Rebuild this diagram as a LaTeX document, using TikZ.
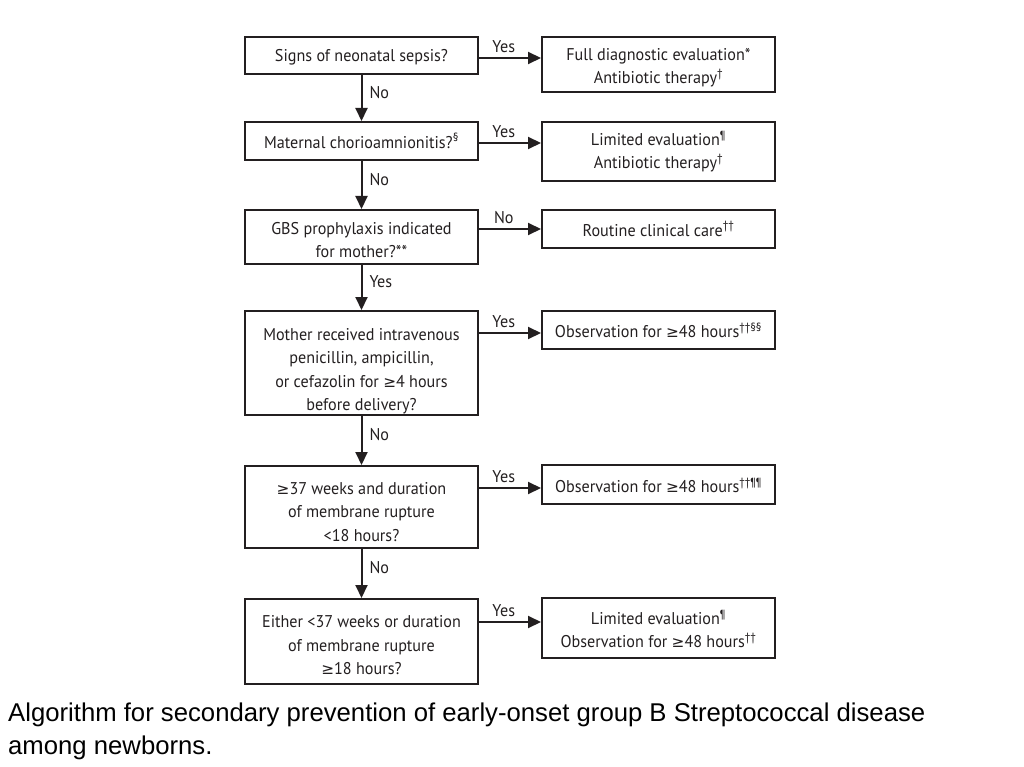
\documentclass[tikz,border=0pt]{standalone}
\usepackage{fontspec}
\setmainfont[FakeStretch=0.95]{PT Sans}
\newfontfamily\capfont{Liberation Sans}
\newfontfamily\gefont[Scale=0.9]{DejaVu Sans}
\newcommand\GE{{\gefont ≥}}
\usetikzlibrary{arrows.meta}
\definecolor{ink}{HTML}{231F20}
\begin{document}
\begin{tikzpicture}[x=1pt,y=-1pt,
  box/.style={draw=ink, line width=2pt, inner sep=0pt},
  lbox/.style={box, minimum width=233pt},
  rbox/.style={box, minimum width=233pt},
  txt/.style={align=center, text=ink, inner sep=0pt,
    font=\fontsize{17}{23.5}\selectfont},
  arr/.style={line width=2pt, draw=ink, -{Triangle[length=13pt,width=12pt]}},
  lbl/.style={font=\fontsize{17}{20}\selectfont, text=ink, inner sep=1pt}]
\path[use as bounding box] (0,0) rectangle (1024,767);

% left column: boxes
\node[lbox, minimum height=37pt] (b1) at (361.5,55.5) {};
\node[lbox, minimum height=38pt] (b2) at (361.5,141) {};
\node[lbox, minimum height=54pt] (b3) at (361.5,237) {};
\node[lbox, minimum height=104pt] (b4) at (361.5,363) {};
\node[lbox, minimum height=82pt] (b5) at (361.5,507) {};
\node[lbox, minimum height=85pt] (b6) at (361.5,641.5) {};
% left column: texts
\node[txt] (b1t) at ([yshift=-2pt]b1.center) {Signs of neonatal sepsis?};
\node[txt] (b2t) at ([yshift=0pt]b2.center) {Maternal chorioamnionitis?\textsuperscript{§}};
\node[txt] (b3t) at ([yshift=-3pt]b3.center) {GBS prophylaxis indicated\\for mother?**};
\node[txt] (b4t) at ([yshift=-8pt]b4.center) {Mother received intravenous\\penicillin, ampicillin,\\or cefazolin for \GE4 hours\\before delivery?};
\node[txt] (b5t) at ([yshift=-5pt]b5.center) {\GE37 weeks and duration\\of membrane rupture\\<18 hours?};
\node[txt] (b6t) at ([yshift=-4pt]b6.center) {Either <37 weeks or duration\\of membrane rupture\\\GE18 hours?};

% right column: boxes
\node[rbox, minimum height=55pt] (r1) at (658.5,64.5) {};
\node[rbox, minimum height=59pt] (r2) at (658.5,151.5) {};
\node[rbox, minimum height=38pt] (r3) at (658.5,229) {};
\node[rbox, minimum height=38pt] (r4) at (658.5,330) {};
\node[rbox, minimum height=39pt] (r5) at (658.5,484.5) {};
\node[rbox, minimum height=60pt] (r6) at (658.5,628) {};
% right column: texts
\node[txt] (r1t) at ([yshift=-3pt]r1.center) {Full diagnostic evaluation*\\Antibiotic therapy\textsuperscript{†}};
\node[txt] (r2t) at ([yshift=0pt]r2.center) {Limited evaluation\textsuperscript{¶}\\Antibiotic therapy\textsuperscript{†}};
\node[txt] (r3t) at (r3.center) {Routine clinical care\textsuperscript{††}};
\node[txt] (r4t) at (r4.center) {Observation for \GE48 hours\textsuperscript{††§§}};
\node[txt] (r5t) at ([yshift=-1pt]r5.center) {Observation for \GE48 hours\textsuperscript{††¶¶}};
\node[txt] (r6t) at ([yshift=-1pt]r6.center) {Limited evaluation\textsuperscript{¶}\\Observation for \GE48 hours\textsuperscript{††}};

% levels of the horizontal arrows
\coordinate (h1) at (0,58);
\coordinate (h2) at (0,143);
\coordinate (h3) at (0,229);
\coordinate (h4) at (0,333);
\coordinate (h5) at (0,488);
\coordinate (h6) at (0,622);

\draw[arr] (b1.east |- h1) -- (r1.west |- h1) node[lbl, pos=0.4, above=3pt] (y1) {Yes};
\draw[arr] (b2.east |- h2) -- (r2.west |- h2) node[lbl, pos=0.4, above=3pt] (y2) {Yes};
\draw[arr] (b3.east |- h3) -- (r3.west |- h3) node[lbl, pos=0.4, above=3pt] (n3) {No};
\draw[arr] (b4.east |- h4) -- (r4.west |- h4) node[lbl, pos=0.4, above=3pt] (y4) {Yes};
\draw[arr] (b5.east |- h5) -- (r5.west |- h5) node[lbl, pos=0.4, above=3pt] (y5) {Yes};
\draw[arr] (b6.east |- h6) -- (r6.west |- h6) node[lbl, pos=0.4, above=3pt] (y6) {Yes};

\draw[arr] (b1.south) -- (b2.north) node[lbl, pos=0.38, right=6pt] (v1) {No};
\draw[arr] (b2.south) -- (b3.north) node[lbl, pos=0.38, right=6pt] (v2) {No};
\draw[arr] (b3.south) -- (b4.north) node[lbl, pos=0.38, right=6pt] (v3) {Yes};
\draw[arr] (b4.south) -- (b5.north) node[lbl, pos=0.38, right=6pt] (v4) {No};
\draw[arr] (b5.south) -- (b6.north) node[lbl, pos=0.38, right=6pt] (v5) {No};

% caption
\node[anchor=north west, align=left, inner sep=0pt,
  font=\capfont\fontsize{25.7}{32.5}\selectfont] (cap) at (8,703)
  {Algorithm for secondary prevention of early-onset group B Streptococcal disease\\among newborns.};
\end{tikzpicture}
\end{document}
